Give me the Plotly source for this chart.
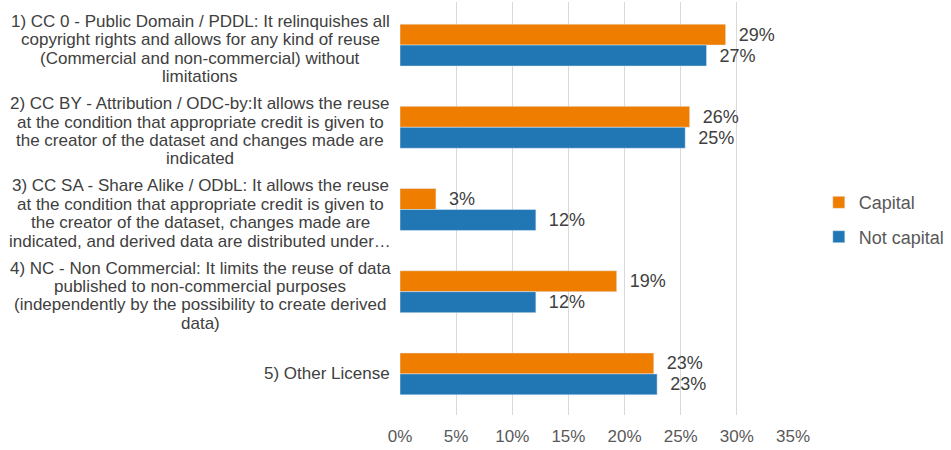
import plotly.graph_objects as go

categories = [
    "1) CC 0 - Public Domain / PDDL: It relinquishes all<br>copyright rights and allows for any kind of reuse<br>(Commercial and non-commercial) without<br>limitations",
    "2) CC BY - Attribution / ODC-by:It allows the reuse<br>at the condition that appropriate credit is given to<br>the creator of the dataset and changes made are<br>indicated",
    "3) CC SA - Share Alike / ODbL: It allows the reuse<br>at the condition that appropriate credit is given to<br>the creator of the dataset, changes made are<br>indicated, and derived data are distributed under…",
    "4) NC - Non Commercial: It limits the reuse of data<br>published to non-commercial purposes<br>(independently by the possibility to create derived<br>data)",
    "5) Other License",
]
capital = [29.0, 25.8, 3.2, 19.3, 22.6]
not_capital = [27.3, 25.4, 12.1, 12.1, 22.9]
x_ticks = [0, 5, 10, 15, 20, 25, 30, 35]
x_tick_labels = ["0%", "5%", "10%", "15%", "20%", "25%", "30%", "35%"]

FONT = "Liberation Sans, Arial, sans-serif"
TXT = "#404040"
AX = "#595959"
FS = 17
NB = "\u00a0\u00a0"

fig = go.Figure()
fig.add_trace(go.Bar(
    y=categories, x=capital, orientation="h", name="Capital",
    marker=dict(color="#ef7d00"), legendgroup="a",
    text=[f"{NB}{round(v)}%" for v in capital], textposition="outside",
    textfont=dict(size=18, color=TXT, family=FONT), cliponaxis=False,
    constraintext="none",
))
fig.add_trace(go.Bar(
    y=categories, x=not_capital, orientation="h", name="Not capital",
    marker=dict(color="#2176b4"), legendgroup="b",
    text=[f"{NB}{round(v)}%" for v in not_capital], textposition="outside",
    textfont=dict(size=18, color=TXT, family=FONT), cliponaxis=False,
    constraintext="none",
))

# category labels: centred multi-line blocks, right-aligned against the plot
LINE_H = 18.4
for c in categories:
    lines = c.split("<br>")
    n = len(lines)
    for i, line in enumerate(lines):
        if n > 1:
            xa, xs, ys = "center", -200, ((n - 1) / 2 - i) * LINE_H - 4
        else:
            xa, xs, ys = "right", -8, 0
        fig.add_annotation(
            x=0, xref="paper", y=c, yref="y", text=line, showarrow=False,
            xanchor=xa, yanchor="middle", xshift=xs, yshift=ys,
            font=dict(size=FS, color=TXT, family=FONT),
        )

fig.update_layout(
    width=951, height=450,
    margin=dict(l=400, r=158, t=2, b=35),
    paper_bgcolor="white", plot_bgcolor="white",
    barmode="group", bargap=0.49, bargroupgap=0,
    font=dict(family=FONT, size=FS, color=TXT),
    legend=dict(
        xref="container", yref="container",
        x=0.861, y=0.512, xanchor="left", yanchor="middle",
        font=dict(size=18, color=AX, family=FONT),
        tracegroupgap=8, itemwidth=30,
        bgcolor="rgba(0,0,0,0)",
    ),
    xaxis=dict(
        range=[0, 35], tickvals=x_ticks, ticktext=x_tick_labels,
        showgrid=True, gridcolor="#d9d9d9", gridwidth=1,
        zeroline=False, showline=False, automargin=False,
        ticklabelstandoff=9,
        tickfont=dict(size=FS, color=AX, family=FONT),
    ),
    yaxis=dict(
        autorange="reversed", showticklabels=False, showgrid=False,
        zeroline=False, showline=False, automargin=False,
    ),
)

fig.write_html(
    "out.html",
    config={"displayModeBar": False},
    post_script="document.body.style.margin='0';",
)
